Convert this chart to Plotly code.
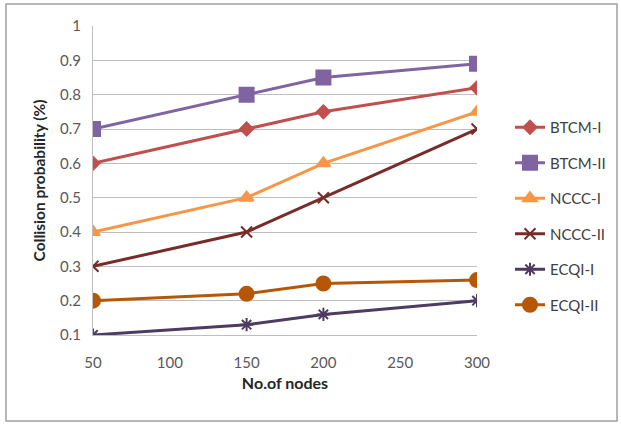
import plotly.graph_objects as go

# Number of nodes in the network
nodes = [50, 150, 200, 300]

# Collision probability for each scheme
btcm_1 = [0.60, 0.70, 0.75, 0.82]
btcm_2 = [0.70, 0.80, 0.85, 0.89]
nccc_1 = [0.40, 0.50, 0.60, 0.75]
nccc_2 = [0.30, 0.40, 0.50, 0.70]
ecqi_1 = [0.10, 0.13, 0.16, 0.20]
ecqi_2 = [0.20, 0.22, 0.25, 0.26]

x_ticks = [50, 100, 150, 200, 250, 300]
y_ticks = [0.1, 0.2, 0.3, 0.4, 0.5, 0.6, 0.7, 0.8, 0.9, 1]

FONT = "Lato, 'Open Sans', sans-serif"

series = [
    ("BTCM-I", btcm_1, "#C0504D", "diamond", 10),
    ("BTCM-II", btcm_2, "#8064A2", "square", 14),
    ("NCCC-I", nccc_1, "#F79646", "triangle-up", 12),
    ("NCCC-II", nccc_2, "#772C2A", "x-thin-open", 11),
    ("ECQI-I", ecqi_1, "#4D3B62", "asterisk-open", 11),
    ("ECQI-II", ecqi_2, "#B65708", "circle", 14),
]

fig = go.Figure()
for i, (name, vals, color, sym, size) in enumerate(series):
    fig.add_trace(go.Scatter(
        x=nodes, y=vals, name=name, mode="lines+markers",
        legendgroup=f"g{i}",
        line=dict(color=color, width=3),
        marker=dict(symbol=sym, size=size, color=color,
                    line=dict(color=color, width=2)),
    ))

W, H = 621, 424
L, R, T, B = 93, 144, 26, 89
pw, ph = W - L - R, H - T - B


def px_x(p):
    return (p - L) / pw


def px_y(p):
    return (H - B - p) / ph


fig.update_layout(
    width=W, height=H,
    margin=dict(l=L, r=R, t=T, b=B, autoexpand=False),
    paper_bgcolor="white", plot_bgcolor="white",
    font=dict(family=FONT, color="#404040"),
    showlegend=True,
    legend=dict(
        x=px_x(510), xanchor="left", y=px_y(111), yanchor="top",
        font=dict(size=15, color="#404040", family=FONT),
        tracegroupgap=13, itemwidth=30,
        bgcolor="rgba(0,0,0,0)",
    ),
    shapes=[dict(
        type="rect", xref="paper", yref="paper",
        x0=px_x(6), x1=px_x(617), y0=px_y(421), y1=px_y(4),
        line=dict(color="#A0A0A0", width=1.5), fillcolor="rgba(0,0,0,0)",
        layer="below",
    )],
)

fig.update_xaxes(
    range=[50, 300], tickvals=x_ticks,
    showgrid=False, zeroline=False,
    showline=True, linecolor="#BFBFBF", linewidth=1,
    ticks="", ticklabelstandoff=14,
    tickfont=dict(size=15, color="#595959", family=FONT),
    title=dict(text="<b>No.of nodes</b>", font=dict(size=16, color="#262626", family=FONT),
               standoff=7),
)
fig.update_yaxes(
    range=[0.1, 1], tickvals=y_ticks,
    showgrid=True, gridcolor="#BFBFBF", gridwidth=1, zeroline=False,
    showline=True, linecolor="#BFBFBF", linewidth=1,
    ticks="", ticklabelstandoff=8,
    tickfont=dict(size=15, color="#595959", family=FONT),
    title=dict(text="<b>Collision probability (%)</b>",
               font=dict(size=15.5, color="#262626", family=FONT), standoff=10),
)

fig.write_html("out.html")
